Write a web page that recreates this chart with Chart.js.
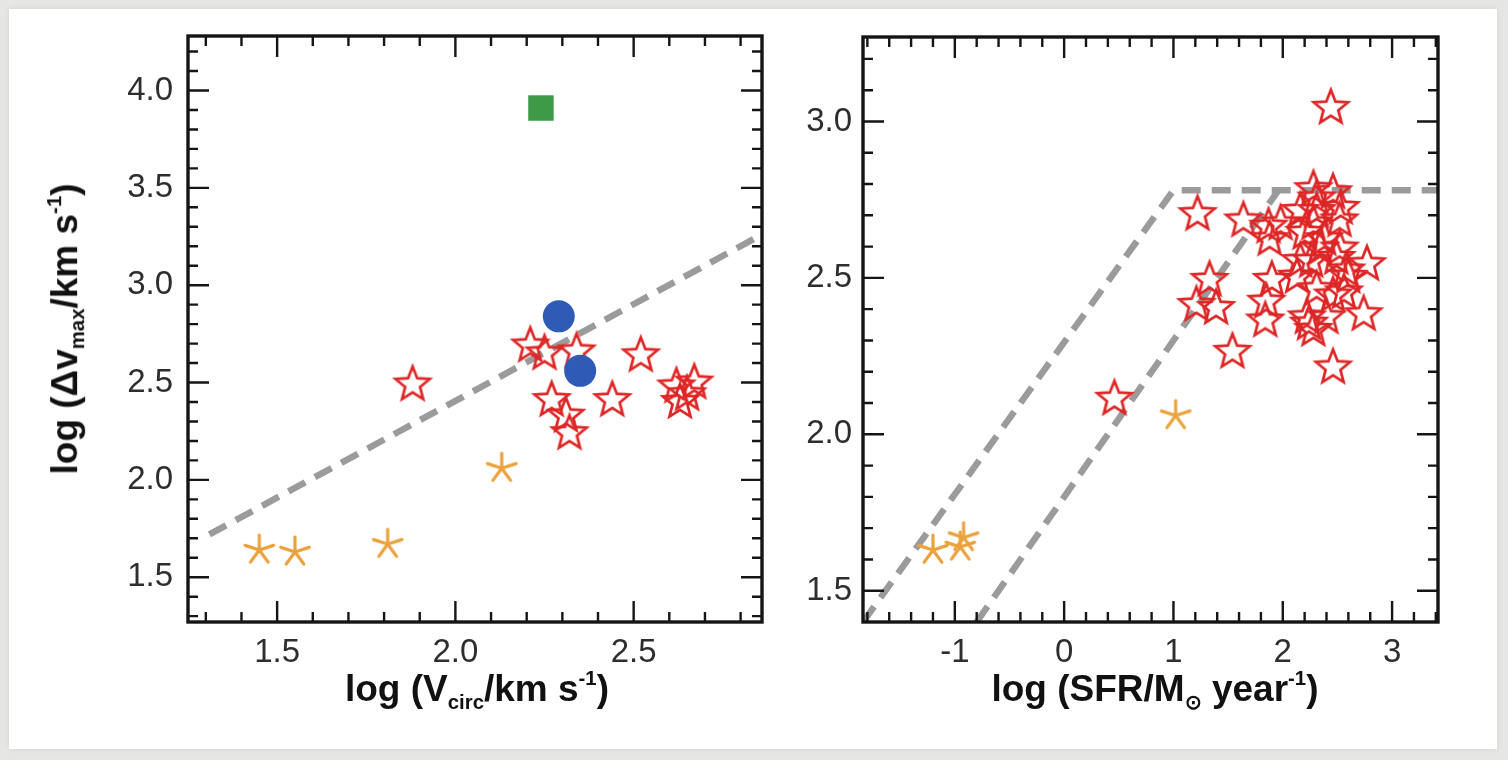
<!DOCTYPE html>
<html>
<head>
<meta charset="utf-8">
<script src="https://cdn.jsdelivr.net/npm/chart.js@4.4.0/dist/chart.umd.min.js"></script>
<style>
  html, body { margin: 0; padding: 0; }
  body { width: 1508px; height: 760px; background: #e6e6e4; position: relative; overflow: hidden; }
  #sheet { position: absolute; left: 9px; top: 9px; width: 1488px; height: 740px; background: #fff; box-shadow: 0 0 6px rgba(0,0,0,0.08); }
  canvas { position: absolute; top: 0; }
  #leftChart { left: 0; }
  #rightChart { left: 780px; }
  .ttl { position: absolute; font: bold 37px 'Liberation Sans', Arial, sans-serif; color: #111; white-space: nowrap; transform: translate(-50%, -50%); line-height: 1; }
  .ttl sub { font-size: 0.55em; vertical-align: -0.35em; }
  .ttl sup { font-size: 0.55em; vertical-align: 0.8em; }
  #ytL { transform: translate(-50%, -50%) rotate(-90deg); }
</style>
</head>
<body>
<div id="sheet"></div>
<canvas id="leftChart" width="780" height="760"></canvas>
<canvas id="rightChart" width="728" height="760"></canvas>
<div class="ttl" id="ytL" style="left:66px; top:329px;">log (&Delta;v<sub>max</sub>/km s<sup>-1</sup>)</div>
<div class="ttl" id="xtL" style="left:477px; top:690px;">log (V<sub>circ</sub>/km s<sup>-1</sup>)</div>
<div class="ttl" id="xtR" style="left:1155px; top:690px;">log (SFR/M<sub>&#8857;</sub> year<sup>-1</sup>)</div>
<script>
  // left panel: log Vcirc vs log dv_max
  const leftXRange = [1.25, 2.86];
  const leftYRange = [1.27, 4.28];
  const leftXMajor = [1.5, 2.0, 2.5];
  const leftYMajor = [1.5, 2.0, 2.5, 3.0, 3.5, 4.0];

  const leftStarX = [1.88, 2.21, 2.25, 2.34, 2.52, 2.27, 2.31, 2.32, 2.44, 2.62, 2.67, 2.63, 2.65];
  const leftStarY = [2.50, 2.70, 2.66, 2.67, 2.65, 2.42, 2.34, 2.25, 2.42, 2.49, 2.51, 2.41, 2.45];
  const leftAsterX = [1.45, 1.55, 1.81, 2.13];
  const leftAsterY = [1.64, 1.63, 1.67, 2.06];
  const leftCircleX = [2.29, 2.35];
  const leftCircleY = [2.84, 2.56];
  const leftSquareX = [2.24];
  const leftSquareY = [3.91];
  const leftLineX = [1.31, 2.86];
  const leftLineY = [1.72, 3.26];

  // right panel: log SFR vs log dv_max
  const rightXRange = [-1.84, 3.42];
  const rightYRange = [1.40, 3.27];
  const rightXMajor = [-1, 0, 1, 2, 3];
  const rightYMajor = [1.5, 2.0, 2.5, 3.0];

  const rightStarX = [2.44, 0.46, 1.22, 1.54, 2.46, 1.33, 1.21, 1.39, 1.64, 1.87, 1.88, 1.98, 1.90, 1.85,
    1.84, 2.13, 2.28, 2.46, 2.31, 2.52, 2.28, 2.20, 2.34, 2.38, 2.52, 2.58, 2.77, 2.60, 2.49, 2.31,
    2.46, 2.56, 2.22, 2.28, 2.40, 2.74, 2.16, 2.53, 2.16, 2.26, 2.31, 2.24];
  const rightStarY = [3.05, 2.12, 2.71, 2.27, 2.22, 2.50, 2.42, 2.41, 2.69, 2.67, 2.63, 2.68, 2.50, 2.43,
    2.37, 2.51, 2.79, 2.78, 2.76, 2.69, 2.68, 2.65, 2.60, 2.63, 2.60, 2.53, 2.55, 2.51, 2.57, 2.47,
    2.45, 2.46, 2.38, 2.34, 2.38, 2.39, 2.56, 2.73, 2.72, 2.56, 2.72, 2.36];
  const rightAsterX = [-1.20, -0.95, -0.92, 1.02];
  const rightAsterY = [1.63, 1.64, 1.67, 2.06];
  const rightLine1X = [-1.84, 1.00, 3.42];
  const rightLine1Y = [1.40, 2.78, 2.78];
  const rightLine2X = [-0.80, 1.96];
  const rightLine2Y = [1.40, 2.78];

  const RED = '#de2626', ORANGE = '#eba23c', BLUE = '#2f5bb6', GREEN = '#3f9a48', GREY = '#9b9b9b';
  const FONT = "'Liberation Sans', Arial, sans-serif";

  function pts(xs, ys) { return xs.map((x, i) => ({ x, y: ys[i] })); }

  function steps(from, to, step) {
    const out = [];
    for (let v = from; v <= to + 1e-9; v += step) out.push(Math.round(v * 100) / 100);
    return out;
  }

  function starImage(color) {
    const R = 18, r = 7.8, s = 2 * R + 8;
    const c = document.createElement('canvas');
    c.width = c.height = s;
    const g = c.getContext('2d');
    g.translate(s / 2, s / 2 + 2);
    g.beginPath();
    for (let i = 0; i < 10; i++) {
      const rad = i % 2 ? r : R;
      const a = -Math.PI / 2 + i * Math.PI / 5;
      g.lineTo(rad * Math.cos(a), rad * Math.sin(a));
    }
    g.closePath();
    g.strokeStyle = color;
    g.lineWidth = 2.7;
    g.stroke();
    return c;
  }

  function asteriskImage(color) {
    const R = 15, s = 2 * R + 6;
    const c = document.createElement('canvas');
    c.width = c.height = s;
    const g = c.getContext('2d');
    g.translate(s / 2, s / 2);
    g.beginPath();
    for (let i = 0; i < 5; i++) {
      const a = -Math.PI / 2 + i * 2 * Math.PI / 5;
      g.moveTo(0, 0);
      g.lineTo(R * Math.cos(a), R * Math.sin(a));
    }
    g.strokeStyle = color;
    g.lineWidth = 3.2;
    g.lineCap = 'round';
    g.stroke();
    return c;
  }

  const starImg = starImage(RED);
  const asterImg = asteriskImage(ORANGE);

  // frame + inward ticks on all four sides
  const boxPlugin = {
    id: 'box',
    afterDatasetsDraw(chart, args, opts) {
      const { ctx, chartArea: a, scales: { x, y } } = chart;
      ctx.save();
      ctx.strokeStyle = '#151515';
      ctx.lineWidth = 2.4;
      ctx.beginPath();
      const xt = (vals, len) => vals.forEach(v => {
        const px = x.getPixelForValue(v);
        ctx.moveTo(px, a.bottom); ctx.lineTo(px, a.bottom - len);
        ctx.moveTo(px, a.top); ctx.lineTo(px, a.top + len);
      });
      const yt = (vals, len) => vals.forEach(v => {
        const py = y.getPixelForValue(v);
        ctx.moveTo(a.left, py); ctx.lineTo(a.left + len, py);
        ctx.moveTo(a.right, py); ctx.lineTo(a.right - len, py);
      });
      xt(opts.xMinor, 10); xt(opts.xMajor, 21);
      yt(opts.yMinor, 10); yt(opts.yMajor, 21);
      ctx.stroke();
      ctx.lineWidth = 3.4;
      ctx.strokeRect(a.left, a.top, a.right - a.left, a.bottom - a.top);
      ctx.restore();
    }
  };

  function lineSet(xs, ys) {
    return {
      data: pts(xs, ys), showLine: true, pointRadius: 0, borderColor: GREY,
      borderWidth: 6.5, borderDash: [19, 11], borderCapStyle: 'butt', fill: false
    };
  }

  function axis(range, major, fmt, box, pad) {
    return {
      type: 'linear', min: range[0], max: range[1],
      afterBuildTicks: s => { s.ticks = major.map(v => ({ value: v })); },
      afterFit: s => { if (box.w != null) s.width = box.w; if (box.h != null) s.height = box.h; },
      grid: { display: false, drawTicks: false },
      border: { display: false },
      ticks: {
        padding: pad, color: '#2e2e2e', font: { family: FONT, size: 33 },
        autoSkip: false, maxRotation: 0, callback: fmt
      }
    };
  }

  function makeChart(id, sets, xr, yr, xMaj, yMaj, xFmt, yFmt, yWidth, pad, minor) {
    return new Chart(document.getElementById(id), {
      type: 'scatter',
      data: { datasets: sets },
      options: {
        responsive: false, animation: false,
        layout: { padding: pad },
        plugins: { legend: { display: false }, tooltip: { enabled: false }, box: minor },
        scales: {
          x: axis(xr, xMaj, xFmt, { h: 138 }, 11),
          y: axis(yr, yMaj, yFmt, { w: yWidth }, yWidth > 100 ? 15 : 11)
        }
      },
      plugins: [boxPlugin]
    });
  }

  const oneDec = v => v.toFixed(1);

  makeChart('leftChart', [
    { data: pts(leftSquareX, leftSquareY), pointStyle: 'rect', pointRadius: 18, backgroundColor: GREEN, borderWidth: 0 },
    { data: pts(leftCircleX, leftCircleY), pointStyle: 'circle', pointRadius: 16, backgroundColor: BLUE, borderWidth: 0 },
    { data: pts(leftStarX, leftStarY), pointStyle: starImg, pointRadius: 10 },
    { data: pts(leftAsterX, leftAsterY), pointStyle: asterImg, pointRadius: 10 },
    lineSet(leftLineX, leftLineY)
  ], leftXRange, leftYRange, leftXMajor, leftYMajor, oneDec, oneDec, 188,
  { left: 0, top: 36, right: 14, bottom: 0 },
  { xMajor: leftXMajor, yMajor: leftYMajor, xMinor: steps(1.3, 2.8, 0.1), yMinor: steps(1.3, 4.2, 0.1) });

  makeChart('rightChart', [
    { data: pts(rightStarX, rightStarY), pointStyle: starImg, pointRadius: 10 },
    { data: pts(rightAsterX, rightAsterY), pointStyle: asterImg, pointRadius: 10 },
    lineSet(rightLine2X, rightLine2Y),
    lineSet(rightLine1X, rightLine1Y)
  ], rightXRange, rightYRange, rightXMajor, rightYMajor, v => String(v), oneDec, 83,
  { left: 0, top: 37, right: 70, bottom: 0 },
  { xMajor: rightXMajor, yMajor: rightYMajor, xMinor: steps(-1.8, 3.4, 0.2), yMinor: steps(1.5, 3.2, 0.1) });
</script>
</body>
</html>
